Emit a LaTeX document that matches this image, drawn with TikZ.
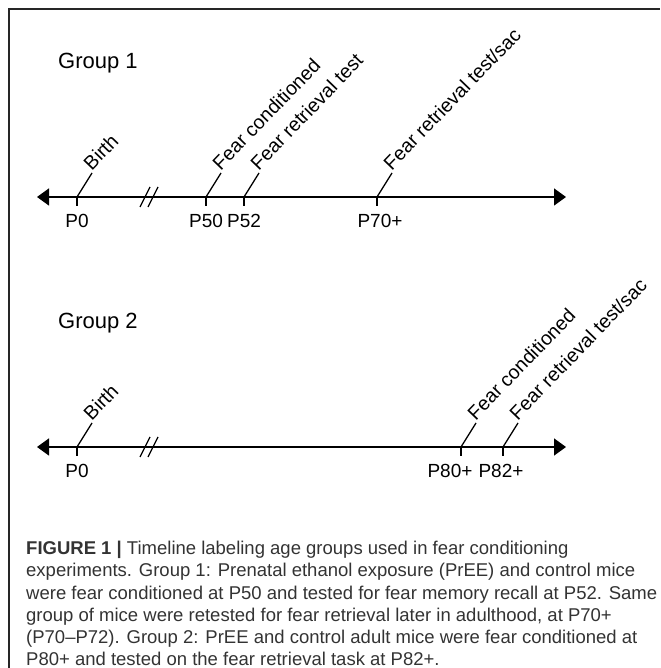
\documentclass[tikz,border=0pt]{standalone}
\usepackage{fontspec}
\setmainfont{Liberation Sans}
\usetikzlibrary{arrows.meta, positioning}

\begin{document}
\begin{tikzpicture}[
    x=1pt, y=1pt,
    axis/.style={
        {Triangle[length=12pt,width=17pt]}-{Triangle[length=12pt,width=17pt]},
        line width=1.5pt
    },
    tickmark/.style={
        line width=1.3pt
    },
    leader/.style={
        line width=1.3pt
    },
    brk/.style={
        line width=1.3pt
    },
    event/.style={
        font=\fontsize{19.5}{22}\selectfont,
        rotate=46,
        anchor=south west,
        inner sep=1pt
    },
    age/.style={
        font=\fontsize{19}{22}\selectfont,
        inner sep=0pt
    },
    group/.style={
        font=\fontsize{22}{26}\selectfont,
        anchor=base west,
        inner sep=0pt
    },
    caption/.style={
        font=\fontsize{18.5}{22.2}\selectfont,
        text=black!80,
        align=left,
        anchor=north west,
        inner sep=0pt
    },
    frame/.style={
        line width=1.5pt,
        draw=black!85
    }
]

\useasboundingbox (0,0) rectangle (660,668);

% Frame
\draw[frame] (9,0) -- (9,659) -- (660,659);

% Group 1
\node[group] (g1title) at (58,599) {Group 1};
\coordinate (g1start) at (37,471);
\coordinate (g1end) at (566,471);
\coordinate (g1p0) at (77,471);
\coordinate (g1brk) at (149,471);
\coordinate (g1p50) at (206,471);
\coordinate (g1p52) at (244,471);
\coordinate (g1p70) at (377,471);

\draw[axis] (g1start) -- (g1end);
\draw[brk] ([shift={(-9,-10)}]g1brk) -- ++(10,20);
\draw[brk] ([shift={(-1,-10)}]g1brk) -- ++(10,20);

\draw[tickmark] (g1p0) -- ++(0,-9);
\draw[tickmark] (g1p50) -- ++(0,-9);
\draw[tickmark] (g1p52) -- ++(0,-9);
\draw[tickmark] (g1p70) -- ++(0,-9);

\node[event, above right=24pt and 15pt of g1p0] (g1birth) {Birth};
\node[event, above right=24pt and 15pt of g1p50] (g1cond) {Fear conditioned};
\node[event, above right=24pt and 15pt of g1p52] (g1test) {Fear retrieval test};
\node[event, above right=24pt and 15pt of g1p70] (g1sac) {Fear retrieval test/sac};

\draw[leader] (g1p0) -- (g1birth.south west);
\draw[leader] (g1p50) -- (g1cond.south west);
\draw[leader] (g1p52) -- (g1test.south west);
\draw[leader] (g1p70) -- (g1sac.south west);

\node[age, below=17pt of g1p0] (g1p0lbl) {P0};
\node[age, below=17pt of g1p50] (g1p50lbl) {P50};
\node[age, below=17pt of g1p52] (g1p52lbl) {P52};
\node[age, below=17pt of g1p70, xshift=3pt] (g1p70lbl) {P70+};

% Group 2
\node[group] (g2title) at (58,339) {Group 2};
\coordinate (g2start) at (37,221);
\coordinate (g2end) at (566,221);
\coordinate (g2p0) at (77,221);
\coordinate (g2brk) at (149,221);
\coordinate (g2p80) at (461,221);
\coordinate (g2p82) at (503,221);

\draw[axis] (g2start) -- (g2end);
\draw[brk] ([shift={(-9,-10)}]g2brk) -- ++(10,20);
\draw[brk] ([shift={(-1,-10)}]g2brk) -- ++(10,20);

\draw[tickmark] (g2p0) -- ++(0,-9);
\draw[tickmark] (g2p80) -- ++(0,-9);
\draw[tickmark] (g2p82) -- ++(0,-9);

\node[event, above right=24pt and 15pt of g2p0] (g2birth) {Birth};
\node[event, above right=24pt and 15pt of g2p80] (g2cond) {Fear conditioned};
\node[event, above right=24pt and 15pt of g2p82] (g2sac) {Fear retrieval test/sac};

\draw[leader] (g2p0) -- (g2birth.south west);
\draw[leader] (g2p80) -- (g2cond.south west);
\draw[leader] (g2p82) -- (g2sac.south west);

\node[age, below=17pt of g2p0] (g2p0lbl) {P0};
\node[age, below=17pt of g2p80, xshift=-11pt] (g2p80lbl) {P80+};
\node[age, below=17pt of g2p82, xshift=-2pt] (g2p82lbl) {P82+};

% Caption
\node[caption] (caption) at (26,127) {\textbf{FIGURE 1 |} Timeline labeling age groups used in fear conditioning\\
experiments. Group 1: Prenatal ethanol exposure (PrEE) and control mice\\
were fear conditioned at P50 and tested for fear memory recall at P52. Same\\
group of mice were retested for fear retrieval later in adulthood, at P70+\\
(P70--P72). Group 2: PrEE and control adult mice were fear conditioned at\\
P80+ and tested on the fear retrieval task at P82+.};

\end{tikzpicture}
\end{document}
